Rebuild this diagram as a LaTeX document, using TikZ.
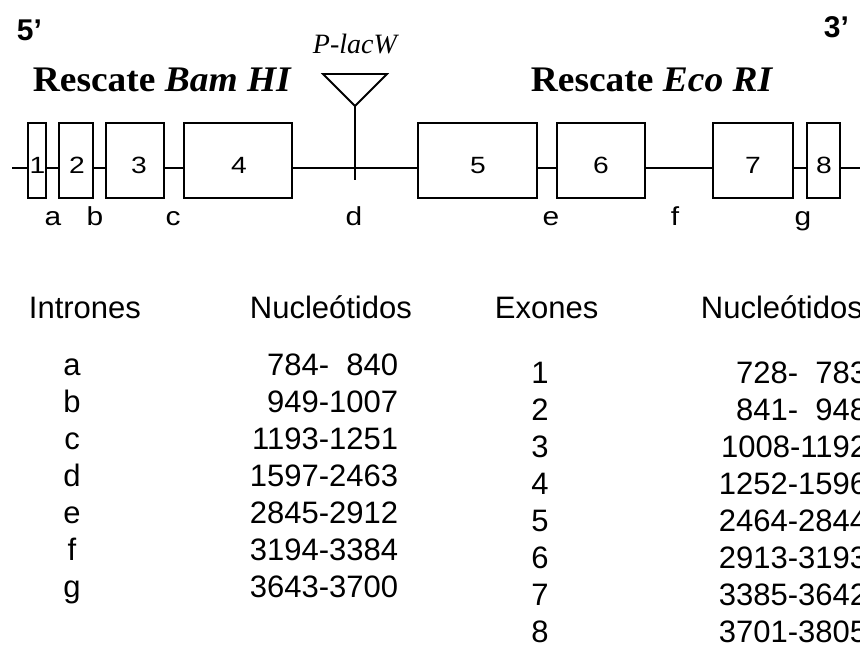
\documentclass[tikz,border=0pt]{standalone}
\usepackage{fontspec}
\setmainfont{Liberation Serif}
\setsansfont{Liberation Sans}
\newfontfamily\boxfont[FakeStretch=1.2]{Liberation Sans}
\newfontfamily\letfont[FakeStretch=1.15]{Liberation Sans}
\newfontfamily\headfont[FakeStretch=1.04,
  BoldFont={Liberation Serif Bold},
  BoldItalicFont={Liberation Serif Bold Italic}]{Liberation Serif}
\begin{document}
\begin{tikzpicture}[x=1pt,y=-1pt,
  line width=1.8pt,
  exon/.style={draw,rectangle,inner sep=0pt,minimum height=75pt},
  num/.style={font=\boxfont\fontsize{23.5}{26}\selectfont,inner sep=0pt,anchor=base},
  let/.style={font=\letfont\fontsize{26}{28}\selectfont,inner sep=0pt,anchor=base},
  tab/.style={font=\sffamily\fontsize{31}{36}\selectfont,inner sep=0pt},
  head/.style={font=\headfont\bfseries\fontsize{36}{40}\selectfont,inner sep=0pt,anchor=base west},
  endlab/.style={font=\sffamily\bfseries\fontsize{30}{34}\selectfont,inner sep=0pt,anchor=base west}]
\useasboundingbox (0,0) rectangle (860,646);

% strand ends and restriction rescue headings
\node[endlab] (five) at (16,40) {5’};
\node[endlab] (three) at (823,37) {3’};
\node[head] (bam) at (32,91) {Rescate \textit{Bam HI}};
\node[head] (eco) at (530,91) {Rescate \textit{Eco RI}};
\node[font=\itshape\fontsize{28}{32}\selectfont,inner sep=0pt,anchor=base west] (plac) at (312,53) {P-lacW};

% exon boxes
\node[exon,minimum width=18pt] (e1) at (37,160.5) {};
\node[exon,minimum width=34pt] (e2) at (76,160.5) {};
\node[exon,minimum width=58pt] (e3) at (135,160.5) {};
\node[exon,minimum width=108pt] (e4) at (238,160.5) {};
\node[exon,minimum width=119pt] (e5) at (477.5,160.5) {};
\node[exon,minimum width=88pt] (e6) at (601,160.5) {};
\node[exon,minimum width=80pt] (e7) at (753,160.5) {};
\node[exon,minimum width=33pt] (e8) at (823.5,160.5) {};
\foreach \i/\x in {1/37.5,2/77,3/139,4/239,5/478,6/601,7/753,8/824}
  \node[num] (n\i) at (\x,173) {\i};

% intron line
\coordinate (L) at (12,168);
\coordinate (R) at (862,168);
\draw (L) -- (e1.west |- L);
\draw (e1.east |- L) -- (e2.west |- L);
\draw (e2.east |- L) -- (e3.west |- L);
\draw (e3.east |- L) -- (e4.west |- L);
\draw (e4.east |- L) -- (e5.west |- L);
\draw (e5.east |- L) -- (e6.west |- L);
\draw (e6.east |- L) -- (e7.west |- L);
\draw (e7.east |- L) -- (e8.west |- L);
\draw (e8.east |- L) -- (R);

% P-lacW insertion
\coordinate (apex) at (355,106);
\coordinate (foot) at (355,180);
\draw[line join=miter] (323,74) -- (387,74) -- (apex) -- cycle;
\draw (apex) -- (foot);

% intron letters
\foreach \l/\x in {a/53,b/95,c/173,d/354,e/551,f/675,g/803}
  \node[let] (i\l) at (\x,225) {\l};

% tables
\node[tab,anchor=base west] (hi) at (28,318) {Intrones};
\node[tab,anchor=base west] (hn1) at (249,318) {Nucleótidos};
\node[tab,anchor=base west] (he) at (494,318) {Exones};
\node[tab,anchor=base west] (hn2) at (700,318) {Nucleótidos};

\foreach \l/\r [count=\k from 0] in {a/784-\hphantom{0}840,b/949-1007,c/1193-1251,d/1597-2463,e/2845-2912,f/3194-3384,g/3643-3700}{
  \node[tab,anchor=base] (ti\l) at (72,375+37*\k) {\l};
  \node[tab,anchor=base east] (ri\l) at (399,375+37*\k) {\r};
}
\foreach \r [count=\k from 1] in {728-\hphantom{0}783,841-\hphantom{0}948,1008-1192,1252-1596,2464-2844,2913-3193,3385-3642,3701-3805}{
  \node[tab,anchor=base] (te\k) at (540,383+37.1*\k-37.1) {\k};
  \node[tab,anchor=base east] (re\k) at (868,383+37.1*\k-37.1) {\r};
}
\end{tikzpicture}
\end{document}
